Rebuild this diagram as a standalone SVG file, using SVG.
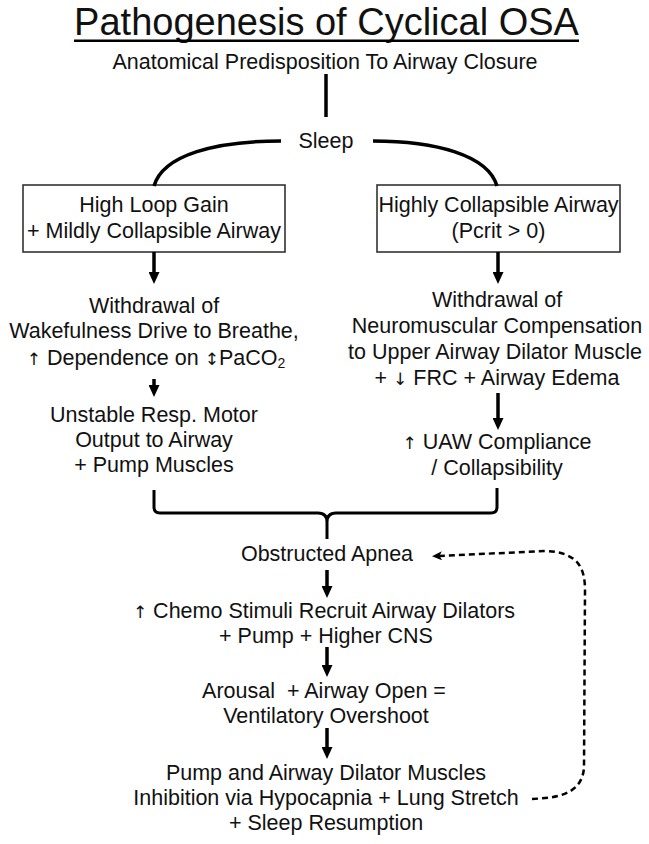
<svg xmlns="http://www.w3.org/2000/svg" width="649" height="844" viewBox="0 0 649 844">
<style>
text{font-family:"Liberation Sans",Arial,sans-serif;fill:#111;text-anchor:middle;font-size:21.5px}
.title{font-size:38px}
.box{fill:#fff;stroke:#333;stroke-width:1.6}
.con{fill:none;stroke:#000;stroke-width:3.5}
.thin{fill:none;stroke:#000;stroke-width:3}
.dash{fill:none;stroke:#000;stroke-width:2.5;stroke-dasharray:6 4}
.ar{font-family:"DejaVu Sans",sans-serif;font-size:17px;fill:#111}
.sub{font-size:14px}
</style>
<defs>
<marker id="ah" viewBox="0 0 12 11" refX="6" refY="5.5" markerWidth="12" markerHeight="11" markerUnits="userSpaceOnUse" orient="auto">
<path d="M0,0 L12,5.5 L0,11 z" fill="#000"/>
</marker>
<marker id="ahd" viewBox="0 0 10 9" refX="4" refY="4.5" markerWidth="10" markerHeight="9" markerUnits="userSpaceOnUse" orient="auto">
<path d="M0,0 L10,4.5 L0,9 L2.5,4.5 z" fill="#000"/>
</marker>
</defs>
<rect width="649" height="844" fill="#fff"/>

<g id="title">
<text class="title" x="326.5" y="35">Pathogenesis of Cyclical OSA</text>
<line x1="74" y1="40.8" x2="579" y2="40.8" stroke="#000" stroke-width="2.4"/>
</g>

<g id="n-anatomical"><text x="325" y="69">Anatomical Predisposition To Airway Closure</text></g>
<g id="n-sleep"><text x="326" y="148">Sleep</text></g>

<g id="n-loopgain">
<rect class="box" x="23" y="185" width="262" height="67"/>
<text x="154" y="212">High Loop Gain</text>
<text x="154" y="238">+ Mildly Collapsible Airway</text>
</g>

<g id="n-collapsible">
<rect class="box" x="377" y="185" width="243" height="67"/>
<text x="498.5" y="212">Highly Collapsible Airway</text>
<text x="498.5" y="238">(Pcrit &gt; 0)</text>
</g>

<g id="n-withdrawal-wake">
<text x="154" y="313">Withdrawal of</text>
<text x="154" y="338">Wakefulness Drive to Breathe,</text>
<text x="156" y="365"><tspan class="ar">↑</tspan> Dependence on <tspan class="ar">↕</tspan>PaCO<tspan class="sub" dy="3">2</tspan></text>
</g>

<g id="n-unstable">
<text x="154" y="422">Unstable Resp. Motor</text>
<text x="154" y="447">Output to Airway</text>
<text x="154" y="472">+ Pump Muscles</text>
</g>

<g id="n-withdrawal-nm">
<text x="497" y="307">Withdrawal of</text>
<text x="497" y="333">Neuromuscular Compensation</text>
<text x="495" y="359">to Upper Airway Dilator Muscle</text>
<text x="497" y="385">+ <tspan class="ar">↓</tspan> FRC + Airway Edema</text>
</g>

<g id="n-uaw">
<text x="497" y="449"><tspan class="ar">↑</tspan> UAW Compliance</text>
<text x="497" y="475">/ Collapsibility</text>
</g>

<g id="n-apnea"><text x="327" y="561">Obstructed Apnea</text></g>

<g id="n-chemo">
<text x="324" y="618"><tspan class="ar">↑</tspan> Chemo Stimuli Recruit Airway Dilators</text>
<text x="326" y="643">+ Pump + Higher CNS</text>
</g>

<g id="n-arousal">
<text x="324" y="698" xml:space="preserve">Arousal  + Airway Open =</text>
<text x="326" y="723">Ventilatory Overshoot</text>
</g>

<g id="n-inhibition">
<text x="326" y="780">Pump and Airway Dilator Muscles</text>
<text x="326" y="805">Inhibition via Hypocapnia + Lung Stretch</text>
<text x="326" y="830">+ Sleep Resumption</text>
</g>

<g id="connectors">
<line class="con" x1="326" y1="74" x2="326" y2="117" stroke-width="4"/>
<path class="con" d="M281,141 C215,141 163,155 154,186"/>
<path class="con" d="M373,141 C435,141 488,155 497,186"/>
<line class="con" x1="154" y1="252" x2="154" y2="278" marker-end="url(#ah)"/>
<line class="con" x1="498" y1="252" x2="498" y2="278" marker-end="url(#ah)"/>
<line class="con" x1="154" y1="379" x2="154" y2="391" marker-end="url(#ah)"/>
<line class="con" x1="498" y1="393" x2="498" y2="424" marker-end="url(#ah)"/>
<path class="thin" d="M154,490 L154,507 Q154,513 160,513 L318,513 Q327,513 327,522 L327,539 M327,522 Q327,513 336,513 L491,513 Q497,513 497,507 L497,488"/>
<line class="con" x1="327" y1="570" x2="327" y2="592" marker-end="url(#ah)"/>
<line class="con" x1="327" y1="647" x2="327" y2="671" marker-end="url(#ah)"/>
<line class="con" x1="327" y1="728" x2="327" y2="753" marker-end="url(#ah)"/>
<path class="dash" d="M532,799 L540,798.5 C565,797 582,790 584,768 L585,590 C585,568 578,552 545,551 L438,556" marker-end="url(#ahd)"/>
</g>
</svg>
